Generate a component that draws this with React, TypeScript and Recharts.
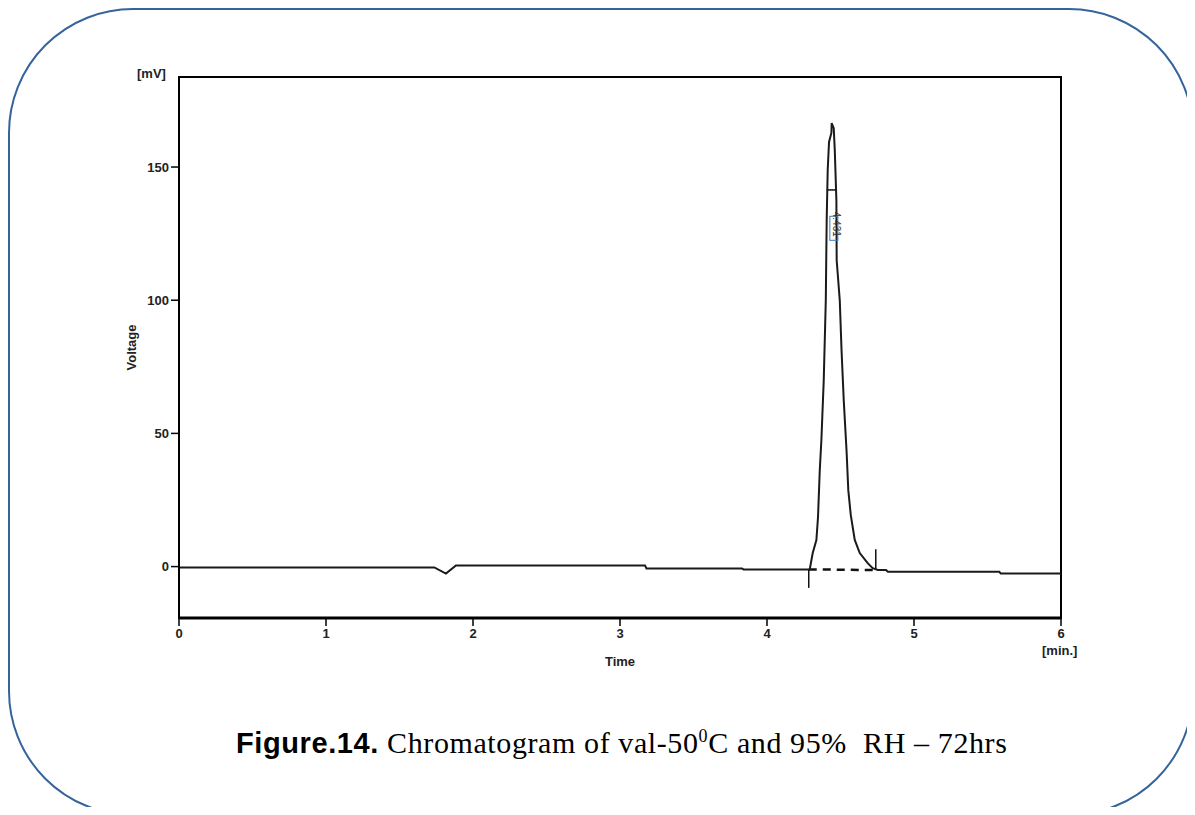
import {
  LineChart,
  Line,
  XAxis,
  YAxis,
  ReferenceArea,
  ReferenceLine,
  ReferenceDot,
} from "recharts";

// retention time (min) and detector signal (mV)
const times = [
  0, 1.737, 1.816, 1.884, 3.17, 3.18, 3.83, 3.84, 4.284,
  4.291, 4.311, 4.336, 4.347, 4.359, 4.37, 4.386, 4.4, 4.406, 4.413, 4.422, 4.438, 4.44,
  4.454, 4.461, 4.472, 4.474, 4.495, 4.507, 4.522, 4.541, 4.553, 4.57, 4.597, 4.631, 4.685, 4.719, 4.754,
  4.81, 4.822, 5.58, 5.59, 6,
];
const voltages = [
  -0.3, -0.3, -2.6, 0.45, 0.45, -0.7, -0.7, -1.05, -1.05,
  -1.0, 5.1, 10.0, 18.6, 36.2, 47.5, 70.0, 100, 130, 149, 159.4, 162.8, 166.5,
  164.6, 156.4, 137.6, 115, 100, 81.3, 62.5, 43.7, 28.7, 19.3, 10, 5.1, 1.3, -0.6, -1.3,
  -1.3, -1.95, -1.95, -2.55, -2.55,
];

const xTicks = [0, 1, 2, 3, 4, 5, 6];
const yTicks = [0, 50, 100, 150];
const yDomain = [-19.3, 183.8];

// peak integration marks
const peakStart = 4.284;
const peakEnd = 4.74;
const peakLabel = "4.431";

const data = times.map((t, i) => ({ t, v: voltages[i] }));

const sans = "'Liberation Sans', Arial, sans-serif";

const tickFont = {
  fontFamily: sans,
  fontSize: 13,
  fontWeight: 600,
  fill: "#222",
};

function PeakText(props: any) {
  const { cx, cy } = props;
  return (
    <g>
      <rect x={cx - 3} y={cy - 12} width={8} height={24} fill="none" stroke="#3a78b8" strokeWidth={1} />
      <text
        x={cx}
        y={cy - 4}
        transform={`rotate(90 ${cx} ${cy - 4})`}
        textAnchor="middle"
        fontSize={10}
        fontFamily={sans}
        fill="#333"
      >
        {peakLabel}
      </text>
    </g>
  );
}

export default function App() {
  return (
    <div
      style={{
        position: "relative",
        width: 1195,
        height: 815,
        margin: -8,
        overflow: "hidden",
        background: "#fff",
      }}
    >
      <div
        style={{
          position: "absolute",
          left: 8,
          top: 8,
          width: 1186,
          height: 808,
          boxSizing: "border-box",
          border: "2px solid #35649b",
          borderRadius: 125,
        }}
      />
      <div style={{ position: "absolute", left: 0, top: 0 }}>
        <LineChart
          width={1195}
          height={700}
          data={data}
          margin={{ top: 77, right: 134, left: 119, bottom: 52 }}
        >
          <XAxis
            dataKey="t"
            type="number"
            domain={[0, 6]}
            ticks={xTicks}
            allowDataOverflow
            axisLine={{ stroke: "#000", strokeWidth: 3 }}
            tickLine={{ stroke: "#000", strokeWidth: 1.5 }}
            tickSize={8}
            tickMargin={3}
            tick={tickFont}
            height={30}
            label={{
              value: "Time",
              position: "insideBottom",
              offset: -18,
              style: { ...tickFont, fontSize: 13 },
            }}
          />
          <YAxis
            type="number"
            domain={yDomain}
            ticks={yTicks}
            allowDataOverflow
            axisLine={{ stroke: "#000", strokeWidth: 2 }}
            tickLine={{ stroke: "#000", strokeWidth: 1.5 }}
            tickSize={8}
            tickMargin={2}
            tick={tickFont}
            width={60}
            label={{
              value: "Voltage",
              angle: -90,
              position: "insideLeft",
              offset: 12,
              style: { ...tickFont, fontSize: 13, textAnchor: "middle" },
            }}
          />
          <ReferenceArea
            x1={0}
            x2={6}
            y1={yDomain[0]}
            y2={yDomain[1]}
            fill="none"
            stroke="#000"
            strokeWidth={2}
          />
          <ReferenceLine
            segment={[
              { x: peakStart, y: -1.05 },
              { x: peakEnd, y: -1.3 },
            ]}
            stroke="#111"
            strokeWidth={2.5}
            strokeDasharray="8 6"
          />
          <ReferenceLine
            segment={[
              { x: peakStart, y: -1.05 },
              { x: peakStart, y: -8 },
            ]}
            stroke="#111"
            strokeWidth={1.5}
          />
          <ReferenceLine
            segment={[
              { x: peakEnd, y: -1.3 },
              { x: peakEnd, y: 6.5 },
            ]}
            stroke="#111"
            strokeWidth={1.5}
          />
          <ReferenceLine
            segment={[
              { x: 4.406, y: 141.4 },
              { x: 4.474, y: 141.4 },
            ]}
            stroke="#111"
            strokeWidth={1.5}
          />
          <Line
            type="linear"
            dataKey="v"
            stroke="#1a1a1a"
            strokeWidth={2}
            dot={false}
            isAnimationActive={false}
          />
          <ReferenceDot x={4.448} y={127} r={0} shape={PeakText} />
        </LineChart>
      </div>
      <div
        style={{
          position: "absolute",
          left: 137,
          top: 66,
          fontFamily: sans,
          fontSize: 13,
          fontWeight: 600,
          color: "#222",
        }}
      >
        [mV]
      </div>
      <div
        style={{
          position: "absolute",
          left: 1042,
          top: 643,
          fontFamily: sans,
          fontSize: 13,
          fontWeight: 600,
          color: "#222",
        }}
      >
        [min.]
      </div>
      <div
        style={{
          position: "absolute",
          left: 236,
          top: 726,
          whiteSpace: "nowrap",
          fontFamily: "'Liberation Serif', 'Times New Roman', serif",
          fontSize: 30,
          letterSpacing: 0.6,
          color: "#000",
        }}
      >
        <span
          style={{
            fontFamily: sans,
            fontWeight: 700,
            fontSize: 29,
            letterSpacing: 0.6,
          }}
        >
          Figure.14.
        </span>{" "}
        Chromatogram of val-50<sup style={{ fontSize: 18 }}>0</sup>C and 95%&nbsp; RH – 72hrs
      </div>
    </div>
  );
}
